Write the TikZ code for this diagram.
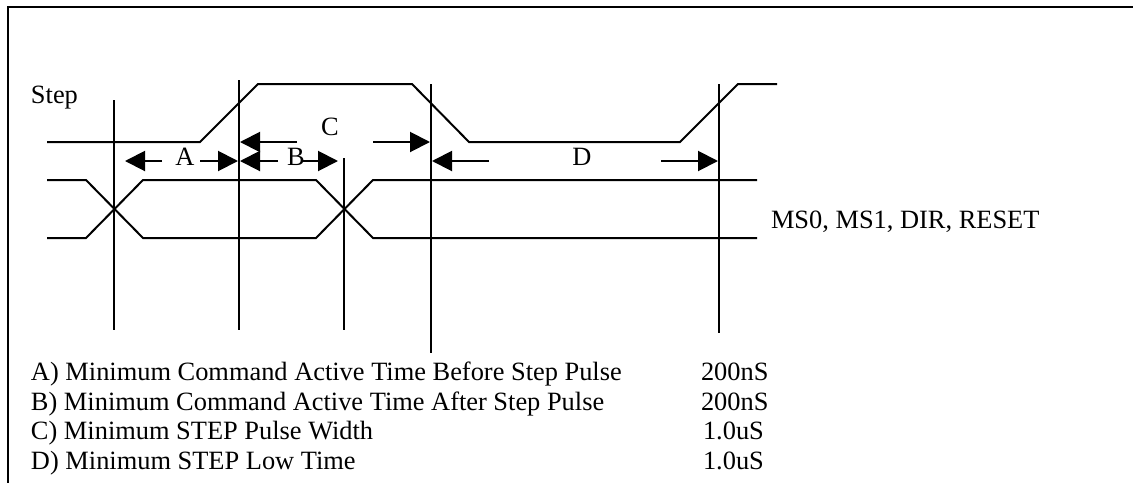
\documentclass[tikz,border=0pt]{standalone}
\usepackage{fontspec}
\setmainfont{Liberation Serif}
\usetikzlibrary{arrows.meta}
\begin{document}
\begin{tikzpicture}[x = 0.75pt, y = -0.75pt, line width = 1.5pt,
    lbl/.style = {font = \fontsize{19.8pt}{24pt}\selectfont, inner sep = 0pt},
    dim/.style = {-{Triangle[length = 15pt, width = 15pt]}}]
    \useasboundingbox (0,0) rectangle (1133,483);
    \draw (1133,7) -- (8,7) -- (8,483);
    \draw (47,142) -- (200,142) -- (258,84) -- (412,84) -- (469,142) -- (680,142) -- (738,84) -- (777,84);
    \draw (47,180) -- (86,180) -- (143,238) -- (316,238) -- (373,180) -- (757,180)
    (47,238) -- (86,238) -- (143,180) -- (316,180) -- (373,238) -- (757,238);
    \foreach \x/\t/\b in {114/100/330, 239/80/330, 344/158/330, 431/84/353, 719/84/333}
        \draw (\x,\t) -- (\x,\b);
    \node[lbl, anchor = base west] (STEP) at (30,103) {Step};
    \node[lbl, anchor = base west] (MSX) at (770,228) {MS0, MS1, DIR, RESET};
    \node[lbl, anchor = base] (LA) at (185,165) {A};
    \node[lbl, anchor = base] (LB) at (296,165) {B};
    \node[lbl, anchor = base] (LC) at (330,135) {C};
    \node[lbl, anchor = base] (LD) at (582,165) {D};
    \draw[dim] (162,161) -- (125,161);
    \draw[dim] (200,161) -- (238,161);
    \draw[dim] (278,161) -- (240,161);
    \draw[dim] (303,161) -- (338,161);
    \draw[dim] (297,142) -- (240,142);
    \draw[dim] (373,142) -- (430,142);
    \draw[dim] (489,161) -- (432,161);
    \draw[dim] (661,161) -- (718,161);
    \node[lbl, anchor = base west] (TA) at (30,380) {A) Minimum Command Active Time Before Step Pulse};
    \node[lbl, anchor = base west] (TB) at (30,410) {B) Minimum Command Active Time After Step Pulse};
    \node[lbl, anchor = base west] (TC) at (30,439.5) {C) Minimum STEP Pulse Width};
    \node[lbl, anchor = base west] (TD) at (30,469) {D) Minimum STEP Low Time};
    \node[lbl, anchor = base west] (VA) at (700,380) {200nS};
    \node[lbl, anchor = base west] (VB) at (700,410) {200nS};
    \node[lbl, anchor = base west] (VC) at (702,439.5) {1.0uS};
    \node[lbl, anchor = base west] (VD) at (702,469) {1.0uS};
\end{tikzpicture}
\end{document}
